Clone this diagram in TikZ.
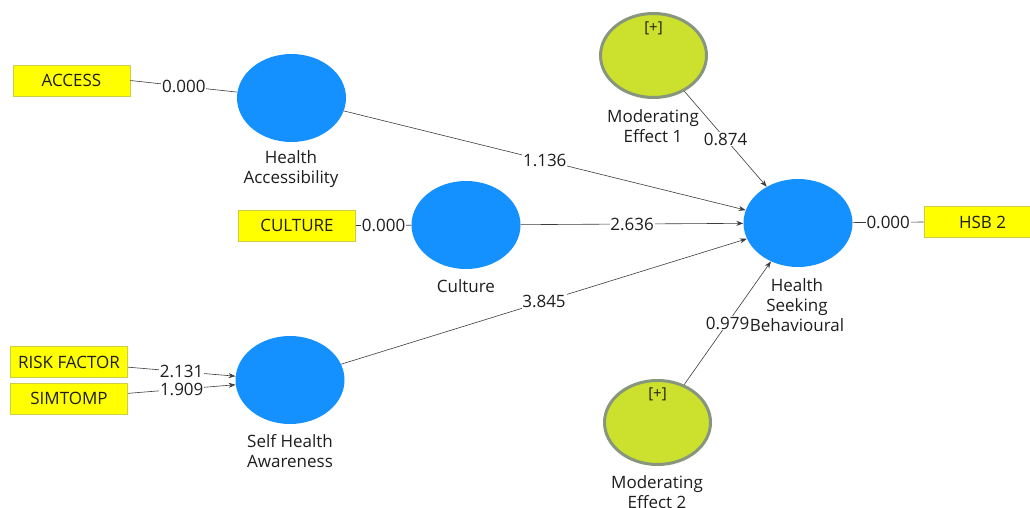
\documentclass[tikz,border=0pt]{standalone}
\usepackage{fontspec}
\setmainfont{Open Sans}
\usetikzlibrary{shapes.geometric,arrows.meta}
\definecolor{lvblue}{RGB}{20,145,255}
\definecolor{indyellow}{RGB}{255,255,0}
\definecolor{indborder}{RGB}{205,205,70}
\definecolor{modfill}{RGB}{204,224,46}
\definecolor{modborder}{RGB}{135,150,125}
\definecolor{linegrey}{RGB}{60,60,60}
\definecolor{txt}{RGB}{30,30,30}
\begin{document}
\begin{tikzpicture}[x=1pt,y=1pt, font=\fontsize{17}{20}\selectfont, text=txt,
 latent/.style={ellipse, fill=lvblue, draw=none, minimum width=109pt, minimum height=88pt, inner sep=0pt},
 moder/.style={ellipse, fill=modfill, draw=modborder, line width=3pt, minimum width=106pt, minimum height=84pt, inner sep=0pt},
 indicator/.style={rectangle, fill=indyellow, draw=indborder, line width=0.6pt, minimum width=117pt, minimum height=31pt, inner sep=0pt},
 caption/.style={align=center, text=txt},
 conn/.style={draw=linegrey, line width=0.6pt},
 arr/.style={conn, -{Stealth[length=7pt,width=5pt]}},
 coef/.style={fill=white, inner sep=0.8pt, text=txt},
 plus/.style={font=\fontsize{15}{17}\selectfont, text=txt}]

\useasboundingbox (0,0) rectangle (1030,-508);
\fill[white] (0,0) rectangle (1030,-508);

% latent variables
\node[latent] (ha) at (291.5,-98) {};
\node[latent] (cu) at (466,-225) {};
\node[latent] (sha) at (290,-380) {};
\node[latent] (hsb) at (798,-223) {};
\node[moder] (mod1) at (653.5,-55.5) {};
\node[moder] (mod2) at (657.5,-422.5) {};
\node[plus] (mod1plus) at (653.5,-28) {[+]};
\node[plus] (mod2plus) at (657.5,-394) {[+]};

% indicators
\node[indicator] (access) at (71.5,-80.5) {ACCESS};
\node[indicator] (culture) at (297,-225.5) {CULTURE};
\node[indicator] (risk) at (69,-362) {RISK FACTOR};
\node[indicator] (simtomp) at (69,-398.5) {SIMTOMP};
\node[indicator] (hsb2) at (982.5,-222) {HSB 2};

% captions
\node[caption] (hacap) at (291,-169.5) {Health\\Accessibility};
\node[caption] (cucap) at (466,-286) {Culture};
\node[caption] (shacap) at (290,-451) {Self Health\\Awareness};
\node[caption] (hsbcap) at (797,-305) {Health\\Seeking\\Behavioural};
\node[caption] (mod1cap) at (653,-126.5) {Moderating\\Effect 1};
\node[caption] (mod2cap) at (657,-492.5) {Moderating\\Effect 2};

% outer connectors
\draw[conn] (access.east) -- node[coef] {0.000} (ha);
\draw[conn] (culture.east) -- node[coef] {0.000} (cu);
\draw[conn] (hsb) -- node[coef] {0.000} (hsb2.west);
\draw[arr] (risk.-5) -- node[coef] {2.131} (sha.176);
\draw[arr] (simtomp.5) -- node[coef] {1.909} (sha.185);

% structural paths
\draw[arr] (ha) -- node[coef] {1.136} (hsb);
\draw[arr] (cu) -- node[coef] {2.636} (hsb);
\draw[arr] (sha) -- node[coef] {3.845} (hsb);
\draw[arr] (mod1) -- node[coef] {0.874} (hsb);
\draw[arr] (mod2) -- node[coef] {0.979} (hsb);
\end{tikzpicture}
\end{document}
